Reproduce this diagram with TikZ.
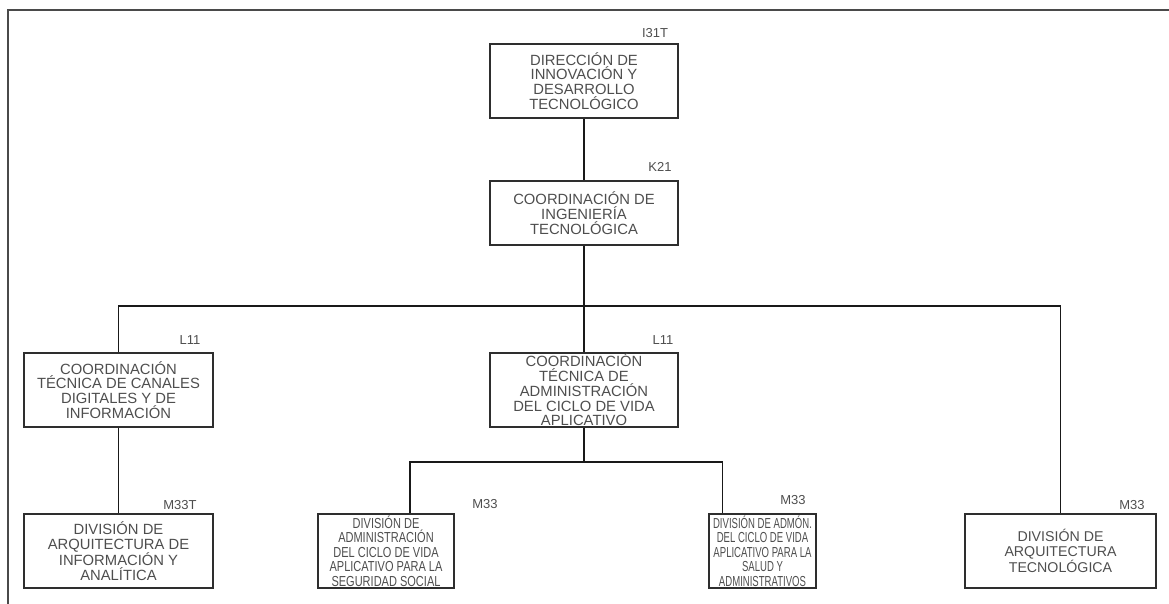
\documentclass[tikz,border=0pt]{standalone}
\usepackage{fontspec}
\setmainfont{Liberation Sans}
\newfontfamily\narrowfont[FakeStretch=0.76]{Liberation Sans}
\newfontfamily\narrowerfont[FakeStretch=0.66]{Liberation Sans}
\definecolor{BoxText}{HTML}{4E4E4E}
\definecolor{BoxLine}{HTML}{2E2E2E}
\definecolor{FrameGray}{HTML}{4A4A4A}

\begin{document}
\begin{tikzpicture}[x=1pt,y=-1pt,
  unit/.style={draw=BoxLine,line width=1.2pt,inner sep=0pt,align=center,text=BoxText,
    minimum height=74pt,font=\fontsize{14.8}{14.8}\selectfont},
  code/.style={text=BoxText,inner sep=0pt,font=\fontsize{13}{13}\selectfont},
  link/.style={line width=1.8pt,black!90}]
\useasboundingbox (0,0) rectangle (1169,604);
\draw[FrameGray,line width=2.6pt] (8,604) -- (8,10) -- (1169,10);
\node[unit,minimum width=188pt] (dir) at (584,81)
      {DIRECCIÓN DE\\INNOVACIÓN Y\\DESARROLLO\\TECNOLÓGICO};
\node[code] (dircode) at (655,33) {I31T};
\node[unit,minimum width=188pt,minimum height=64pt] (ing) at (584,213)
      {COORDINACIÓN DE\\INGENIERÍA\\TECNOLÓGICA};
\node[code] (ingcode) at (660,167) {K21};
\node[unit,minimum width=189pt] (ctl) at (118.5,390)
      {COORDINACIÓN\\TÉCNICA DE CANALES\\DIGITALES Y DE\\INFORMACIÓN};
\node[code] (ctlcode) at (190,340) {L11};
\node[unit,minimum width=188pt] (cca) at (584,390)
      {COORDINACIÓN\\TÉCNICA DE\\ADMINISTRACIÓN\\DEL CICLO DE VIDA\\APLICATIVO};
\node[code] (ccacode) at (663,340) {L11};
\node[unit,minimum width=189pt] (arqi) at (118.5,551)
      {DIVISIÓN DE\\ARQUITECTURA DE\\INFORMACIÓN Y\\ANALÍTICA};
\node[code] (arqicode) at (180,505) {M33T};
\node[unit,minimum width=136pt,font=\narrowfont\fontsize{14.5}{14.4}\selectfont] (seg) at (386,551)
      {DIVISIÓN DE\\ADMINISTRACIÓN\\DEL CICLO DE VIDA\\APLICATIVO PARA LA\\SEGURIDAD SOCIAL};
\node[code] (segcode) at (485,504) {M33};
\node[unit,minimum width=107pt,font=\narrowerfont\fontsize{14.5}{14.4}\selectfont] (sal) at (762.5,551)
      {DIVISIÓN DE ADMÓN.\\DEL CICLO DE VIDA\\APLICATIVO PARA LA\\SALUD Y\\ADMINISTRATIVOS};
\node[code] (salcode) at (793,500) {M33};
\node[unit,minimum width=191pt,font=\fontsize{14.2}{14.4}\selectfont] (arqt) at (1060.5,551)
      {DIVISIÓN DE\\ARQUITECTURA\\TECNOLÓGICA};
\node[code] (arqtcode) at (1132,505) {M33};
\coordinate (bus) at (584,306);
\coordinate (subbus) at (584,462);
\draw[link] (dir) -- (ing);
\draw[link] (ing.south) -- (cca.north);
\draw[link] (ctl.north) |- (bus) -| (arqt.north);
\draw[link] (ctl) -- (arqi);
\draw[link] (cca.south) -- (subbus);
\draw[link] ([xshift=24pt]seg.north) |- (subbus) -| ([xshift=-40pt]sal.north);
\end{tikzpicture}
\end{document}
